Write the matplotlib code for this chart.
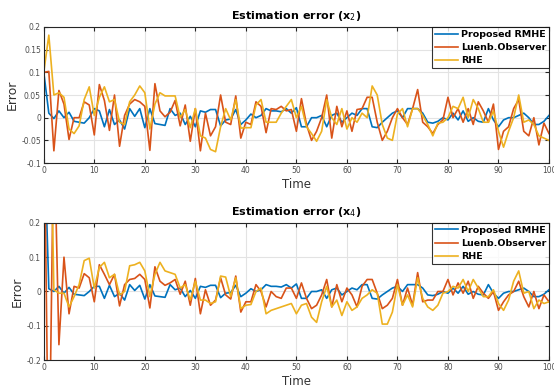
import matplotlib
matplotlib.use("Agg")
import matplotlib.pyplot as plt
from matplotlib.ticker import FuncFormatter

# time axis 0..100
time = list(range(101))

# estimation error of x2
rmhe_x2 = [0.1, 0.01, -0.002, 0.015, 0.0, 0.012, -0.008, -0.01, -0.012, 0.0,
           0.02, 0.015, -0.02, 0.018, -0.015, -0.005, -0.025, 0.02, 0.003, 0.02,
           -0.022, 0.02, -0.013, -0.015, -0.017, 0.02, 0.005, 0.01, -0.015, 0.003,
           -0.02, 0.015, 0.012, 0.018, 0.018, -0.018, -0.005, -0.003, 0.018, -0.015,
           -0.005, 0.008, 0.0, 0.005, 0.02, 0.015, 0.015, 0.013, 0.02, 0.01,
           0.022, -0.02, -0.02, 0.0, 0.0, 0.005, -0.02, 0.005, 0.01, -0.01,
           0.0, 0.01, 0.005, 0.02, 0.02, -0.02, -0.022, -0.01, 0.0, 0.01,
           0.015, 0.0, 0.02, 0.02, 0.02, 0.01, -0.01, -0.012, -0.008, 0.0,
           -0.005, 0.01, -0.005, 0.015, -0.008, 0.0, -0.008, -0.01, 0.02, -0.005,
           -0.02, -0.005, 0.0, 0.0, 0.005, 0.01, 0.0, -0.015, -0.015, -0.008,
           0.005]
luenb_x2 = [0.1, 0.102, -0.073, 0.06, 0.03, -0.048, 0.0, 0.0, 0.035, 0.028,
            -0.038, 0.073, 0.038, -0.028, 0.05, -0.063, 0.005, 0.03, 0.04, 0.035,
            0.025, -0.072, 0.075, 0.015, 0.002, 0.012, 0.038, -0.018, 0.028, -0.052,
            0.02, -0.073, 0.01, -0.04, -0.02, 0.05, -0.01, -0.015, 0.048, -0.045,
            -0.01, -0.015, 0.035, 0.025, -0.033, 0.02, 0.018, 0.025, 0.015, 0.018,
            -0.03, 0.042, -0.015, -0.05, -0.03, 0.0, 0.05, -0.045, 0.025, -0.02,
            0.015, -0.03, 0.018, 0.02, 0.045, 0.045, -0.01, -0.05, -0.03, 0.0,
            0.02, 0.0, -0.015, 0.02, 0.062, -0.01, -0.02, -0.035, -0.015, -0.005,
            0.045, 0.0, 0.02, -0.01, 0.02, -0.015, 0.035, 0.015, -0.01, 0.03,
            -0.07, -0.03, -0.02, 0.02, 0.04, -0.03, -0.04, 0.0, -0.06, -0.012,
            -0.035]
rhe_x2 = [0.1, 0.182, 0.05, 0.055, 0.045, -0.025, -0.035, -0.018, 0.04, 0.068,
          0.005, 0.045, 0.068, 0.035, 0.04, -0.01, -0.015, 0.035, 0.05, 0.07,
          0.055, -0.025, 0.03, 0.055, 0.048, 0.048, 0.048, 0.0, 0.018, -0.022,
          0.02, -0.04, -0.045, -0.07, -0.075, -0.02, 0.02, -0.005, 0.04, -0.023,
          -0.022, -0.022, 0.028, 0.04, -0.01, -0.01, -0.01, 0.01, 0.025, 0.04,
          0.0, 0.025, -0.02, -0.035, -0.052, -0.03, 0.04, 0.0, -0.015, 0.02,
          -0.025, 0.0, -0.01, 0.01, 0.0, 0.07, 0.05, -0.015, -0.045, -0.05,
          0.008, 0.02, -0.02, 0.02, 0.02, 0.005, -0.015, -0.04, -0.012, -0.01,
          0.0, 0.025, 0.02, 0.045, 0.0, 0.04, 0.02, -0.01, -0.01, 0.015,
          -0.03, -0.065, -0.03, 0.0, 0.05, -0.01, -0.005, -0.015, -0.04, -0.045,
          -0.05]

# estimation error of x4
rmhe_x4 = [0.5, 0.008, 0.0, 0.015, -0.005, 0.012, -0.008, -0.01, -0.012, 0.0,
           0.015, 0.015, -0.02, 0.018, -0.015, -0.005, -0.025, 0.02, 0.003, 0.018,
           -0.022, 0.02, -0.013, -0.015, -0.017, 0.02, 0.005, 0.01, -0.015, 0.003,
           -0.02, 0.015, 0.012, 0.018, 0.018, -0.018, -0.005, -0.003, 0.018, -0.015,
           -0.005, 0.008, 0.0, 0.005, 0.02, 0.015, 0.015, 0.013, 0.02, 0.01,
           0.022, -0.02, -0.02, 0.0, 0.0, 0.005, -0.02, 0.005, 0.01, -0.01,
           0.0, 0.01, 0.005, 0.02, 0.02, -0.02, -0.022, -0.01, 0.0, 0.01,
           0.015, 0.0, 0.02, 0.02, 0.02, 0.01, -0.01, -0.012, -0.008, 0.0,
           -0.005, 0.01, -0.005, 0.015, -0.008, 0.0, -0.008, -0.01, 0.02, -0.005,
           -0.02, -0.005, 0.0, 0.0, 0.005, 0.01, 0.0, -0.015, -0.015, -0.008,
           0.005]
luenb_x4 = [0.6, -0.6, 0.5, -0.155, 0.1, -0.065, 0.015, 0.01, 0.052, 0.04,
            -0.03, 0.078, 0.05, 0.02, 0.05, -0.042, 0.02, 0.035, 0.038, 0.05,
            0.035, -0.048, 0.072, 0.03, 0.018, 0.025, 0.035, -0.008, 0.03, -0.04,
            0.038, -0.065, 0.005, -0.04, -0.025, 0.04, -0.01, -0.022, 0.045, -0.06,
            -0.03, -0.03, 0.02, 0.0, -0.045, 0.0, -0.015, -0.02, 0.01, 0.01,
            -0.02, 0.025, -0.02, -0.05, -0.04, -0.01, 0.035, -0.045, 0.02, -0.03,
            0.01, -0.01, -0.045, 0.015, 0.035, 0.035, -0.005, -0.05, -0.04, -0.02,
            0.035, -0.04, 0.01, -0.04, 0.055, -0.03, -0.025, -0.025, 0.0, 0.0,
            0.035, -0.01, 0.025, -0.005, 0.03, -0.02, 0.015, -0.005, -0.02, 0.0,
            -0.055, -0.03, -0.01, 0.0, 0.03, -0.015, -0.045, 0.0, -0.05, -0.01,
            -0.03]
rhe_x4 = [0.8, 0.8, 0.005, -0.005, -0.005, -0.045, -0.015, 0.02, 0.09, 0.097,
          0.01, 0.07, 0.085, 0.04, 0.05, -0.01, 0.0, 0.075, 0.078, 0.085,
          0.06, -0.015, 0.05, 0.085, 0.06, 0.055, 0.05, 0.01, 0.02, -0.025,
          0.03, -0.025, -0.025, -0.035, -0.03, 0.045, 0.042, -0.015, 0.04, -0.05,
          -0.04, -0.038, 0.0, 0.01, -0.065, -0.055, -0.05, -0.045, -0.04, -0.035,
          -0.065, -0.04, -0.035, -0.075, -0.09, -0.03, 0.015, -0.045, -0.025, -0.07,
          -0.03, -0.055, -0.045, -0.02, -0.01, 0.005, -0.005, -0.095, -0.095, -0.06,
          0.02, -0.04, -0.01, -0.045, 0.04, -0.02, -0.045, -0.055, -0.04, -0.005,
          0.0, 0.015, 0.01, 0.035, 0.0, 0.035, 0.01, -0.015, -0.015, 0.005,
          -0.035, -0.055, -0.025, 0.03, 0.06, -0.005, 0.0, -0.05, -0.025, -0.035,
          -0.03]

labels = ["Proposed RMHE", "Luenb.Observer", "RHE"]
colors = ["#0072BD", "#D95319", "#EDB120"]

panels = [
    ("Estimation error (x$_2$)", [rmhe_x2, luenb_x2, rhe_x2], (-0.1, 0.2),
     [-0.1, -0.05, 0, 0.05, 0.1, 0.15, 0.2]),
    ("Estimation error (x$_4$)", [rmhe_x4, luenb_x4, rhe_x4], (-0.2, 0.2),
     [-0.2, -0.1, 0, 0.1, 0.2]),
]

fig = plt.figure(figsize=(5.54, 3.91), dpi=100)
boxes = [[0.079, 0.583, 0.912, 0.348], [0.079, 0.079, 0.912, 0.351]]

for box, (title, series, ylim, yticks) in zip(boxes, panels):
    ax = fig.add_axes(box)
    for y, lab, c in zip(series, labels, colors):
        ax.plot(time, y, color=c, lw=1.2, label=lab)
    ax.set_xlim(0, 100)
    ax.set_ylim(*ylim)
    ax.set_xticks(range(0, 101, 10))
    ax.set_yticks(yticks)
    ax.yaxis.set_major_formatter(FuncFormatter(lambda v, p: f"{v:g}"))
    ax.grid(True, color="#e3e3e3", lw=0.8)
    ax.set_axisbelow(True)
    ax.tick_params(direction="in", top=True, right=True, length=3,
                   labelsize=5.5, labelcolor="#4d4d4d", color="#262626", pad=2)
    for s in ax.spines.values():
        s.set_color("#262626")
        s.set_linewidth(0.8)
    ax.set_title(title, fontsize=8, fontweight="bold", pad=6)
    ax.set_xlabel("Time", fontsize=8.5, color="#333333", labelpad=2)
    ax.set_ylabel("Error", fontsize=9, color="#333333", labelpad=2)
    leg = ax.legend(loc="upper right", fontsize=6.8, frameon=True, fancybox=False,
                    borderpad=0.3, labelspacing=0.45, handlelength=2.4,
                    handletextpad=0.3, borderaxespad=0.0)
    leg.get_frame().set_edgecolor("black")
    leg.get_frame().set_linewidth(0.8)
    for t in leg.get_texts():
        t.set_fontweight("bold")

fig.savefig("out.png", dpi=100)
